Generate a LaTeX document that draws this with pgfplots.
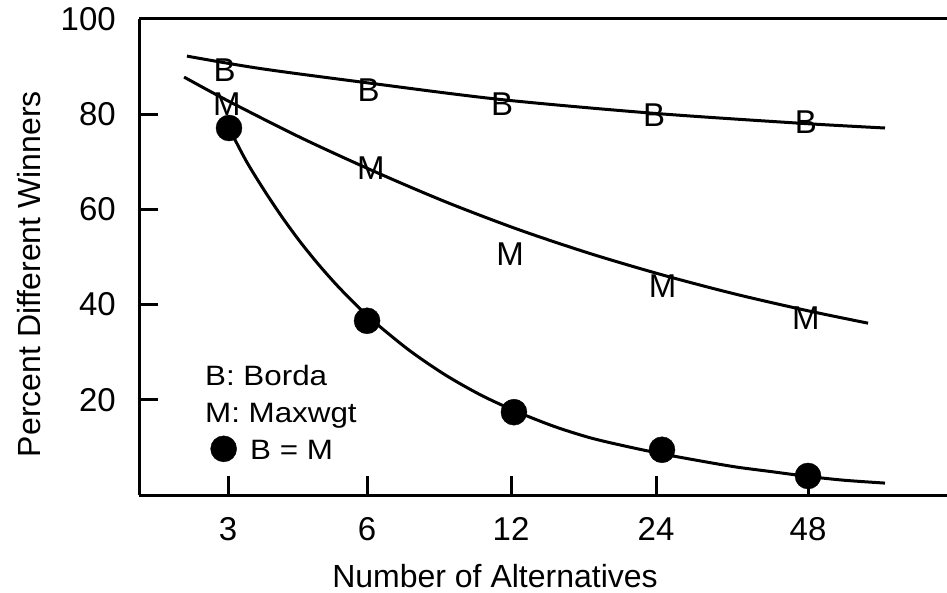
\documentclass[border=0pt]{standalone}
\usepackage{fontspec}
\setmainfont{Liberation Sans}
\newfontfamily\legfont[FakeStretch=1.12]{Liberation Sans}
\usepackage{pgfplots}
\pgfplotsset{compat=1.18}
\newcommand\ticklbl{\fontsize{33}{39}\selectfont}
\newcommand\axlbl{\fontsize{32}{38}\selectfont}
\newcommand\mklbl{\fontsize{33}{39}\selectfont}
\newcommand\leglbl{\legfont\fontsize{28}{33}\selectfont}
\begin{document}
\begin{tikzpicture}
\path[use as bounding box] (0,0) rectangle (947pt,592pt);
\begin{axis}[
  at={(139pt,97pt)}, anchor=south west,
  scale only axis, width=808pt, height=476pt,
  xmin=-0.6138, xmax=4.9586, ymin=0, ymax=100,
  axis x line*=box, axis y line*=left,
  xtick={0,0.959,1.952,2.952,4}, xticklabels={3,6,12,24,48},
  ytick={20,40,60,80,100},
  tick align=inside, major tick length=19pt,
  xtick pos=left, ytick pos=left,
  every tick/.style={black, line width=3pt},
  axis line style={line width=3pt, black},
  /pgf/number format/assume math mode=true,
  tick label style={font=\ticklbl, inner sep=0pt},
  yticklabel style={xshift=-23pt},
  xticklabel style={yshift=-22pt},
  xlabel={Number of Alternatives},
  ylabel={Percent Different Winners},
  xlabel style={at={(axis description cs:0.4406,-0.1933)}, anchor=base, font=\axlbl, inner sep=0pt},
  ylabel style={at={(axis description cs:-0.1225,0.464)}, anchor=base, rotate=0, font=\axlbl, inner sep=0pt},
  clip=false,
]
% Borda fitted curve
\addplot[black, line width=3pt, smooth, no marks] coordinates {
 (-0.283,92.2) (0.221,89.6) (0.959,86.6) (1.876,83.1) (2.931,80.2) (3.945,78.1) (4.531,77.1)
};
% Maxwgt fitted curve
\addplot[black, line width=3pt, smooth, no marks] coordinates {
 (-0.303,87.8) (0.0,82.8) (0.5,75.1) (1.0,68.1) (1.5,61.6) (2.0,55.8) (2.5,50.7) (3.0,46.2) (3.5,42.2) (4.0,38.7) (4.414,36.1)
};
% B = M fitted curve
\addplot[black, line width=3pt, smooth, no marks] coordinates {
 (0.007,77.1) (0.125,70.2) (0.25,64.0) (0.375,58.3) (0.5,53.1) (0.625,48.4) (0.75,44.1) (0.875,40.2)
 (1.0,36.6) (1.25,30.4) (1.5,25.2) (1.75,20.9) (2.0,17.4) (2.25,14.4) (2.5,12.0) (2.75,10.2)
 (3.0,8.6) (3.25,7.2) (3.5,5.9) (3.75,4.9) (4.0,3.9) (4.25,3.1) (4.531,2.5)
};
% Borda points
\addplot[only marks, mark=text, text mark={B}, text mark as node=true,
  text mark style={font=\mklbl, inner sep=0pt, black}] coordinates {
 (-0.023,89.3) (0.969,85.0) (1.890,82.1) (2.938,79.9) (3.986,78.3)
};
% Maxwgt points
\addplot[only marks, mark=text, text mark={M}, text mark as node=true,
  text mark style={font=\mklbl, inner sep=0pt, black}] coordinates {
 (-0.007,82.2) (0.986,68.7) (1.945,50.6) (2.997,43.9) (3.986,37.2)
};
% B = M points
\addplot[only marks, mark=*, mark size=13pt, black] coordinates {
 (0.007,77.1) (0.959,36.6) (1.972,17.4) (2.993,9.5) (4.0,4.0)
};
% key circle
\addplot[only marks, mark=*, mark size=13pt, black] coordinates {(-0.030,9.7)};
\node[anchor=base west, inner sep=0pt, font=\leglbl] at (axis cs:-0.159,22.9) {B: Borda};
\node[anchor=base west, inner sep=0pt, font=\leglbl] at (axis cs:-0.159,15.2) {M: Maxwgt};
\node[anchor=base west, inner sep=0pt, font=\leglbl] at (axis cs:0.152,7.5) {B = M};
\end{axis}
\end{tikzpicture}
\end{document}
